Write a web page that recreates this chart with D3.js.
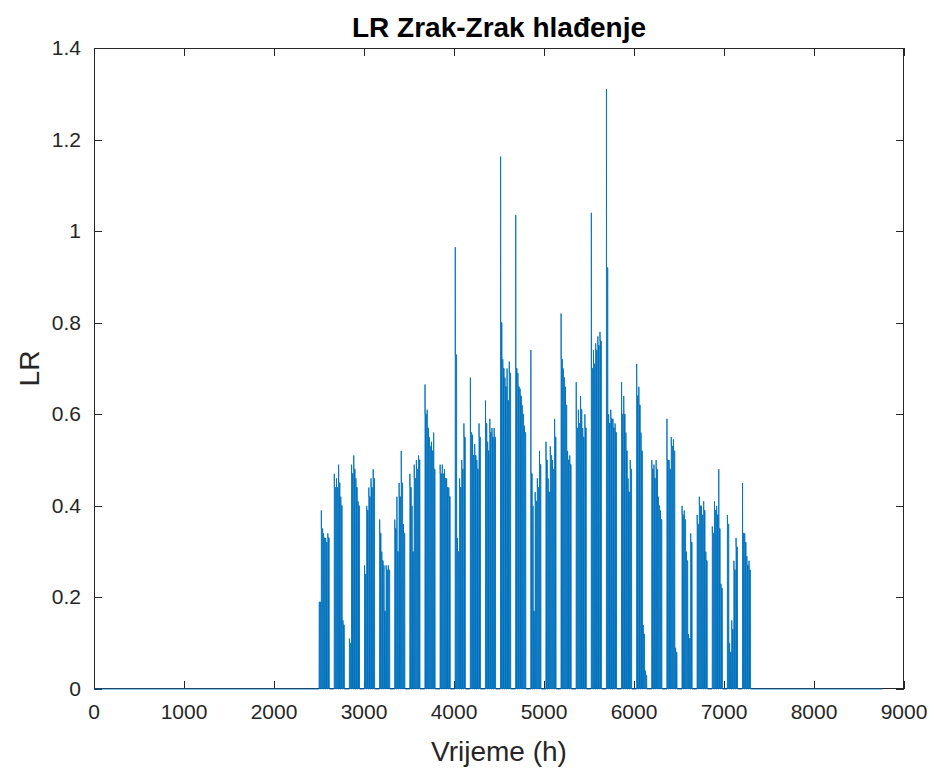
<!DOCTYPE html>
<html><head><meta charset="utf-8">
<script src="https://cdn.jsdelivr.net/npm/d3@7"></script>
<style>
body{margin:0;background:#fff}
text{font-family:"Liberation Sans",Arial,Helvetica,sans-serif;fill:#262626}
</style>
</head><body>
<svg id="chart" width="936" height="772"></svg>
<script>
// ---- data ----
const titleText = "LR Zrak-Zrak hlađenje";
const xLabelText = "Vrijeme (h)";
const yLabelText = "LR";
const xTicks = [0,1000,2000,3000,4000,5000,6000,7000,8000,9000];
const yTicks = [0,0.2,0.4,0.6,0.8,1,1.2,1.4];
const yTickLabels = ["0","0.2","0.4","0.6","0.8","1","1.2","1.4"];
const hoursInYear = 8760;
// first working day (day-of-year index) of every week block
const weekStartDay = [104,111,118,125,132,139,146,153,160,167,174,181,188,195,202,209,216,223,230,237,244,251,258,265,272,279,286,293,300];
// daily maximum (first hour after start-up) per working day
const dailyPeak = [
 [0.19,0.39,0.34,0.33,0.34],
 [0.47,0.46,0.49,0.42,0.15],
 [0.11,0.49,0.51,0.46,0.41],
 [0.27,0.40,0.44,0.46,0.48],
 [0.37,0.30,0.27,0.27,0.27],
 [0.37,0.42,0.45,0.52,0.36],
 [0.47,0.40,0.49,0.50,0.51],
 [0.665,0.61,0.55,0.54,0.56],
 [0.49,0.49,0.48,0.46,0.44],
 [0.965,0.33,0.46,0.50,0.58],
 [0.68,0.555,0.535,0.50,0.58],
 [0.63,0.54,0.59,0.57,0.57],
 [1.163,0.72,0.68,0.70,0.715],
 [1.035,0.69,0.656,0.62,0.575],
 [0.74,0.40,0.43,0.46,0.52],
 [0.54,0.46,0.53,0.50,0.59],
 [0.82,0.70,0.66,0.52,0.51],
 [0.67,0.61,0.64,0.57,0.60],
 [1.04,0.74,0.755,0.77,0.78],
 [1.31,0.60,0.61,0.59,0.58],
 [0.67,0.64,0.56,0.46,0.50],
 [0.71,0.66,0.56,0.14,0.04],
 [0.50,0.49,0.50,0.42,0.39],
 [0.59,0.50,0.55,0.545,0.09],
 [0.40,0.39,0.30,0.12,0.34],
 [0.38,0.42,0.40,0.41,0.30],
 [0.355,0.41,0.40,0.48,0.23],
 [0.38,0.10,0.15,0.28,0.33],
 [0.45,0.34,0.29,0.28]
];
// level held during the rest of the working day
const dailyLevel = [
 [0.19,0.35,0.33,0.32,0.33],
 [0.44,0.44,0.45,0.40,0.14],
 [0.10,0.47,0.48,0.44,0.40],
 [0.25,0.39,0.42,0.44,0.46],
 [0.34,0.28,0.17,0.26,0.26],
 [0.35,0.30,0.42,0.45,0.34],
 [0.44,0.30,0.46,0.48,0.50],
 [0.60,0.57,0.53,0.52,0.48],
 [0.47,0.47,0.46,0.44,0.42],
 [0.73,0.30,0.44,0.48,0.55],
 [0.56,0.51,0.51,0.48,0.55],
 [0.58,0.52,0.56,0.55,0.55],
 [0.80,0.70,0.66,0.63,0.69],
 [0.70,0.66,0.64,0.60,0.56],
 [0.47,0.17,0.41,0.44,0.49],
 [0.50,0.43,0.51,0.48,0.55],
 [0.72,0.68,0.62,0.50,0.49],
 [0.57,0.58,0.61,0.55,0.57],
 [0.70,0.71,0.74,0.75,0.76],
 [0.92,0.58,0.59,0.57,0.56],
 [0.60,0.60,0.52,0.43,0.48],
 [0.64,0.62,0.52,0.12,0.03],
 [0.48,0.46,0.48,0.40,0.37],
 [0.50,0.48,0.53,0.52,0.08],
 [0.38,0.37,0.28,0.11,0.32],
 [0.36,0.40,0.38,0.39,0.28],
 [0.34,0.39,0.38,0.35,0.22],
 [0.36,0.08,0.13,0.26,0.31],
 [0.34,0.32,0.27,0.26]
];
// operating hours within a working day
const startHour = 5, peakHour = 6, levelHour = 7, lastHour = 21, stopHour = 22;

// ---- build hourly series (hour, LR) ----
const series = [[0,0]];
weekStartDay.forEach((d0,k)=>{
  dailyPeak[k].forEach((p,i)=>{
    const h = (d0+i)*24;
    const lv = dailyLevel[k][i];
    series.push([h+startHour,0],[h+peakHour,p],[h+levelHour,lv],[h+lastHour,lv],[h+stopHour,0]);
  });
});
series.push([hoursInYear,0]);

// ---- layout ----
const svg = d3.select("#chart");
const m = {left:94, right:904, top:48, bottom:689};
const x = d3.scaleLinear().domain([0,9000]).range([m.left,m.right]);
const y = d3.scaleLinear().domain([0,1.4]).range([m.bottom,m.top]);
const axisColor = "#262626";
const lineColor = "#0072BD";
const tickLen = 8;

svg.append("rect").attr("x",0).attr("y",0).attr("width",936).attr("height",772).attr("fill","#fff");

svg.append("defs").append("clipPath").attr("id","clip")
  .append("rect").attr("x",m.left).attr("y",m.top-1).attr("width",m.right-m.left).attr("height",m.bottom-m.top+2);

// box + ticks
const g = svg.append("g");
g.append("rect").attr("x",m.left+0.5).attr("y",m.top+0.5)
  .attr("width",m.right-m.left-1).attr("height",m.bottom-m.top-1)
  .attr("fill","none").attr("stroke",axisColor).attr("stroke-width",1);

xTicks.forEach(t=>{
  const xx = Math.round(x(t))+0.5;
  g.append("line").attr("x1",xx).attr("x2",xx).attr("y1",m.bottom).attr("y2",m.bottom-tickLen).attr("stroke",axisColor);
  g.append("line").attr("x1",xx).attr("x2",xx).attr("y1",m.top).attr("y2",m.top+tickLen).attr("stroke",axisColor);
  g.append("text").attr("x",x(t)).attr("y",m.bottom+30).attr("text-anchor","middle")
    .attr("font-size",21).text(d3.format("d")(t));
});
yTicks.forEach((t,i)=>{
  const yy = Math.round(y(t))+0.5;
  g.append("line").attr("x1",m.left).attr("x2",m.left+tickLen).attr("y1",yy).attr("y2",yy).attr("stroke",axisColor);
  g.append("line").attr("x1",m.right).attr("x2",m.right-tickLen).attr("y1",yy).attr("y2",yy).attr("stroke",axisColor);
  g.append("text").attr("x",m.left-13).attr("y",y(t)+7).attr("text-anchor","end")
    .attr("font-size",21).text(yTickLabels[i]);
});

// data
const area = d3.area().x(d=>x(d[0])).y0(y(0)).y1(d=>y(d[1]));
const line = d3.line().x(d=>x(d[0])).y(d=>y(d[1]));
const dg = svg.append("g").attr("clip-path","url(#clip)");
dg.append("path").datum(series).attr("d",area).attr("fill",lineColor).attr("stroke","none");
dg.append("path").datum(series).attr("d",line).attr("fill","none")
  .attr("stroke",lineColor).attr("stroke-width",0.9).attr("stroke-linejoin","miter");

// labels
svg.append("text").attr("x",(m.left+m.right)/2).attr("y",37).attr("text-anchor","middle")
  .attr("font-size",28).attr("font-weight","bold").style("fill","#000").text(titleText);
svg.append("text").attr("x",(m.left+m.right)/2).attr("y",761).attr("text-anchor","middle")
  .attr("font-size",28).text(xLabelText);
svg.append("text").attr("transform",`translate(39,${(m.top+m.bottom)/2}) rotate(-90)`).attr("text-anchor","middle")
  .attr("font-size",28).text(yLabelText);
</script>
</body></html>
